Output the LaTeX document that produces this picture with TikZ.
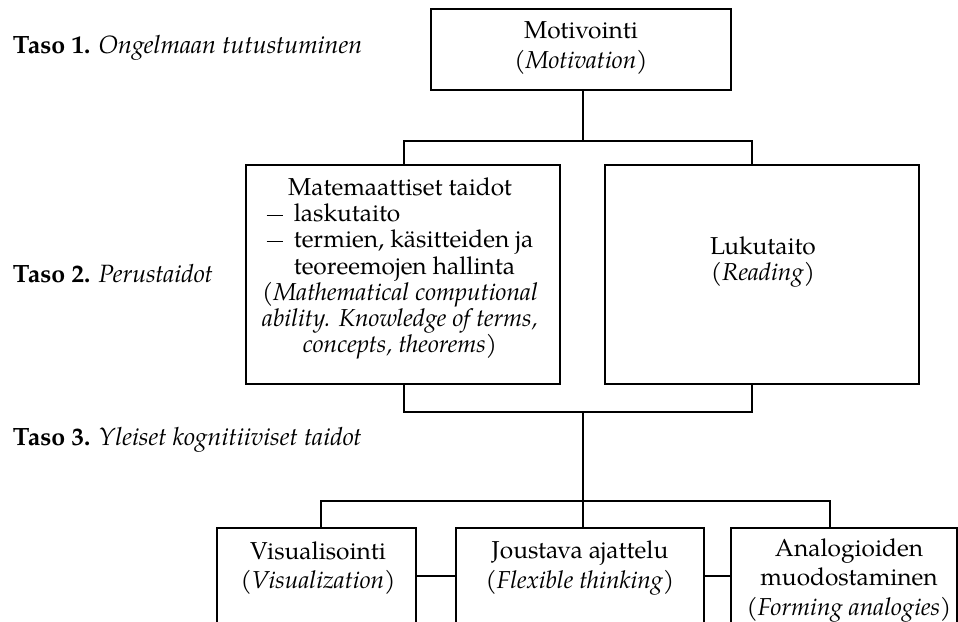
\documentclass[tikz,border=0pt]{standalone}
\usepackage{fontspec}
\setmainfont{TeX Gyre Pagella}
\newsavebox\dashline
% short list dash followed by the gap before the item text
\newcommand\itemdash{\rule[0.22em]{0.66em}{1.7pt}\hspace{0.45em}}
\begin{document}
% width of the longest list line, used to align the list items
\sbox\dashline{\fontsize{24.5}{26.2}\selectfont\itemdash termien, käsitteiden ja}%
\begin{tikzpicture}[x=1pt,y=-1pt,line width=1.8pt,
  box/.style={draw,line width=1.8pt,inner sep=0pt},
  txt/.style={align=center,inner sep=0pt,font=\fontsize{24.5}{26.2}\selectfont},
  txtwide/.style={align=center,inner sep=0pt,font=\fontsize{24.5}{29.5}\selectfont},
  lvl/.style={anchor=west,inner sep=0pt,font=\fontsize{25}{29}\selectfont}]
\clip (0,0) rectangle (958,621);

% level captions
\node[lvl] (t1) at (12,48)  {\textbf{Taso 1.} \textit{Ongelmaan tutustuminen}};
\node[lvl] (t2) at (12,274) {\textbf{Taso 2.} \textit{Perustaidot}};
\node[lvl] (t3) at (12,440) {\textbf{Taso 3.} \textit{Yleiset kognitiiviset taidot}};

% boxes
\node[box,minimum width=300,minimum height=81]  (mot) at (581,49.5) {};
\node[box,minimum width=314,minimum height=219] (mat) at (403,274.5) {};
\node[box,minimum width=314,minimum height=219] (luk) at (762,274.5) {};
\node[box,minimum width=199,minimum height=132] (vis) at (316.5,594) {};
\node[box,minimum width=248,minimum height=132] (jou) at (580,594) {};
\node[box,minimum width=226,minimum height=132] (ana) at (844,594) {};

% box texts
\node[txtwide] (motT) at (581,48) {Motivointi\\\textit{(Motivation)}};
\node[txt] (matT) at (400,268.5) {Matemaattiset taidot\\
  \makebox[\wd\dashline][l]{\itemdash laskutaito}\\
  \usebox\dashline\\
  \makebox[\wd\dashline][l]{\phantom{\itemdash}teoreemojen hallinta}\\
  \textit{(Mathematical computional}\\
  \textit{ability. Knowledge of terms,}\\
  \textit{concepts, theorems)}};
\node[txt] (lukT) at (763,262) {Lukutaito\\\textit{(Reading)}};
\node[txtwide] (visT) at (318,568) {Visualisointi\\\textit{(Visualization)}};
\node[txtwide] (jouT) at (580,568) {Joustava ajattelu\\\textit{(Flexible thinking)}};
\node[txtwide] (anaT) at (849,580) {Analogioiden\\muodostaminen\\\textit{(Forming analogies)}};

% junction points of the tree
\coordinate (j1)  at (583,141);
\coordinate (j1l) at (404,141);
\coordinate (j1r) at (752,141);
\coordinate (j2)  at (583,412);
\coordinate (j2l) at (404,412);
\coordinate (j2r) at (752,412);
\coordinate (j3l) at (321,501);
\coordinate (j3r) at (830,501);
\coordinate (side) at (0,576);

% connectors
\draw (j1 |- mot.south) -- (j1);
\draw (mat.north -| j1l) -- (j1l) -- (j1r) -- (luk.north -| j1r);
\draw (mat.south -| j2l) -- (j2l) -- (j2r) -- (luk.south -| j2r);
\draw (j2) -- (jou.north -| j2);
\draw (vis.north -| j3l) -- (j3l) -- (j3r) -- (ana.north -| j3r);
\draw (vis.east |- side) -- (jou.west |- side);
\draw (jou.east |- side) -- (ana.west |- side);
\end{tikzpicture}
\end{document}
